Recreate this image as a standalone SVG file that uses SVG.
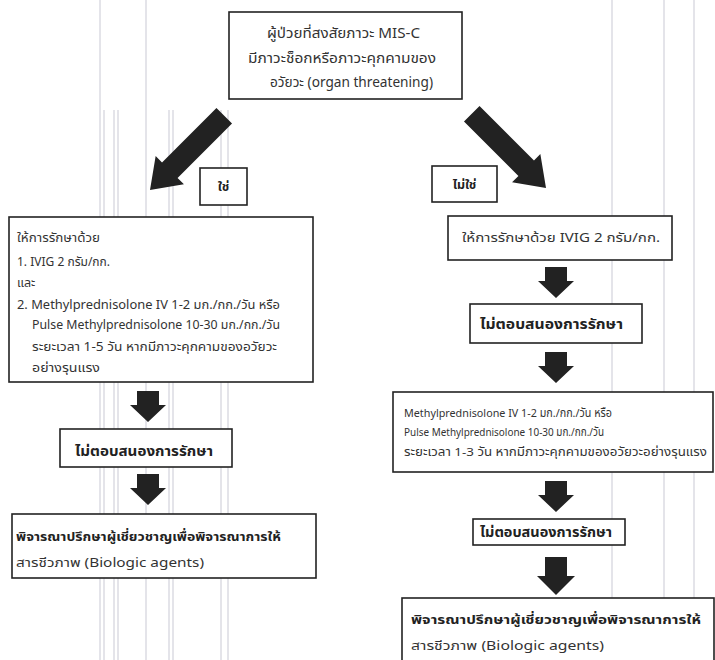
<svg xmlns="http://www.w3.org/2000/svg" width="715" height="660" viewBox="0 0 715 660">
<style>
  .bg line { stroke: #c9c9d4; stroke-width: 1; }
  .box { fill: #ffffff; stroke: #222222; stroke-width: 1.6; }
  .t { font-family: Tahoma, "Noto Sans Thai", "Noto Sans", "DejaVu Sans", sans-serif; fill: #333333; font-size: 12.5px; }
  .b { font-weight: bold; fill: #222222; }
  .c { text-anchor: middle; }
  .h { font-size: 13.5px; }
  .sm { font-size: 11.5px; }
  .arr { fill: #222222; }
</style>
<defs>
  <polygon id="diag" points="0,0 -28,-20 -28,-11 -105,-11 -105,11 -28,11 -28,20"/>
  <polygon id="down" points="0,0 -18,-17 -11,-17 -11,-31 11,-31 11,-17 18,-17"/>
  <polygon id="down2" points="0,0 -19,-19 -11,-19 -11,-38 11,-38 11,-19 19,-19"/>
</defs>
<rect width="715" height="660" fill="#ffffff"/>
<g class="bg">
  <line x1="100" y1="0" x2="100" y2="660"/>
  <line x1="104" y1="110" x2="104" y2="660"/>
  <line x1="114" y1="110" x2="114" y2="660"/>
  <line x1="118" y1="110" x2="118" y2="660"/>
  <line x1="146" y1="0" x2="146" y2="660"/>
  <line x1="169" y1="110" x2="169" y2="660"/>
  <line x1="173" y1="110" x2="173" y2="660"/>
  <line x1="221" y1="110" x2="221" y2="660"/>
  <line x1="228" y1="110" x2="228" y2="660"/>
  <line x1="612" y1="0" x2="612" y2="660"/>
  <line x1="664" y1="0" x2="664" y2="660"/>
  <line x1="694" y1="0" x2="694" y2="660"/>
</g>

<g id="connectors">
  <use href="#diag" class="arr" transform="translate(150,190) rotate(135)"/>
  <use href="#diag" class="arr" transform="translate(546,188) rotate(45)"/>
  <use href="#down" class="arr" transform="translate(148,422)"/>
  <use href="#down" class="arr" transform="translate(148,505)"/>
  <use href="#down" class="arr" transform="translate(556,298)"/>
  <use href="#down" class="arr" transform="translate(556,383)"/>
  <use href="#down" class="arr" transform="translate(556,512)"/>
  <use href="#down2" class="arr" transform="translate(556,595)"/>
</g>

<g id="start">
  <rect class="box" x="229" y="12" width="233" height="87"/>
  <text class="t h" x="267" y="38" textLength="153" lengthAdjust="spacingAndGlyphs">ผู้ป่วยที่สงสัยภาวะ MIS-C</text>
  <text class="t h" x="248" y="63" textLength="188" lengthAdjust="spacingAndGlyphs">มีภาวะช็อกหรือภาวะคุกคามของ</text>
  <text class="t h" x="270" y="87" textLength="163" lengthAdjust="spacingAndGlyphs">อวัยวะ (organ threatening)</text>
</g>

<g id="yes">
  <rect class="box" x="200" y="168" width="47" height="37"/>
  <text class="t b c" x="223.5" y="191">ใช่</text>
</g>

<g id="no">
  <rect class="box" x="432" y="166" width="65" height="36"/>
  <text class="t b c" x="464.5" y="189">ไม่ใช่</text>
</g>

<g id="left-treat">
  <rect class="box" x="9" y="217" width="304" height="165"/>
  <text class="t" x="17" y="242" textLength="83" lengthAdjust="spacingAndGlyphs">ให้การรักษาด้วย</text>
  <text class="t" x="17" y="266" textLength="93" lengthAdjust="spacingAndGlyphs">1. IVIG 2 กรัม/กก.</text>
  <text class="t" x="17" y="287">และ</text>
  <text class="t" x="17" y="309" textLength="263" lengthAdjust="spacingAndGlyphs">2. Methylprednisolone IV 1-2 มก./กก./วัน หรือ</text>
  <text class="t" x="32" y="329" textLength="248" lengthAdjust="spacingAndGlyphs">Pulse Methylprednisolone 10-30 มก./กก./วัน</text>
  <text class="t" x="32" y="351" textLength="245" lengthAdjust="spacingAndGlyphs">ระยะเวลา 1-5 วัน หากมีภาวะคุกคามของอวัยวะ</text>
  <text class="t" x="32" y="372" textLength="68" lengthAdjust="spacingAndGlyphs">อย่างรุนแรง</text>
</g>

<g id="left-noresp">
  <rect class="box" x="60" y="429" width="172" height="38"/>
  <text class="t h b" x="75" y="456" textLength="138" lengthAdjust="spacingAndGlyphs">ไม่ตอบสนองการรักษา</text>
</g>

<g id="left-bio">
  <rect class="box" x="12" y="514" width="304" height="64"/>
  <text class="t b" x="16" y="541" textLength="265" lengthAdjust="spacingAndGlyphs">พิจารณาปรึกษาผู้เชี่ยวชาญเพื่อพิจารณาการให้</text>
  <text class="t" x="16" y="567" textLength="188" lengthAdjust="spacingAndGlyphs">สารชีวภาพ (Biologic agents)</text>
</g>

<g id="right-ivig">
  <rect class="box" x="448" y="216" width="224" height="44"/>
  <text class="t" x="462" y="242" textLength="198" lengthAdjust="spacingAndGlyphs">ให้การรักษาด้วย IVIG 2 กรัม/กก.</text>
</g>

<g id="right-noresp1">
  <rect class="box" x="470" y="304" width="172" height="39"/>
  <text class="t h b" x="480" y="329" textLength="143" lengthAdjust="spacingAndGlyphs">ไม่ตอบสนองการรักษา</text>
</g>

<g id="right-steroid">
  <rect class="box" x="393" y="392" width="320" height="80"/>
  <text class="t sm" x="404" y="417" textLength="208" lengthAdjust="spacingAndGlyphs">Methylprednisolone IV 1-2 มก./กก./วัน หรือ</text>
  <text class="t sm" x="404" y="436" textLength="200" lengthAdjust="spacingAndGlyphs">Pulse Methylprednisolone 10-30 มก./กก./วัน</text>
  <text class="t sm" x="404" y="456" textLength="303" lengthAdjust="spacingAndGlyphs">ระยะเวลา 1-3 วัน หากมีภาวะคุกคามของอวัยวะอย่างรุนแรง</text>
</g>

<g id="right-noresp2">
  <rect class="box" x="473" y="519" width="152" height="26"/>
  <text class="t h b" x="480" y="537" textLength="132" lengthAdjust="spacingAndGlyphs">ไม่ตอบสนองการรักษา</text>
</g>

<g id="right-bio">
  <rect class="box" x="402" y="598" width="312" height="70"/>
  <text class="t b" x="411" y="624" textLength="290" lengthAdjust="spacingAndGlyphs">พิจารณาปรึกษาผู้เชี่ยวชาญเพื่อพิจารณาการให้</text>
  <text class="t" x="411" y="650" textLength="193" lengthAdjust="spacingAndGlyphs">สารชีวภาพ (Biologic agents)</text>
</g>
</svg>
